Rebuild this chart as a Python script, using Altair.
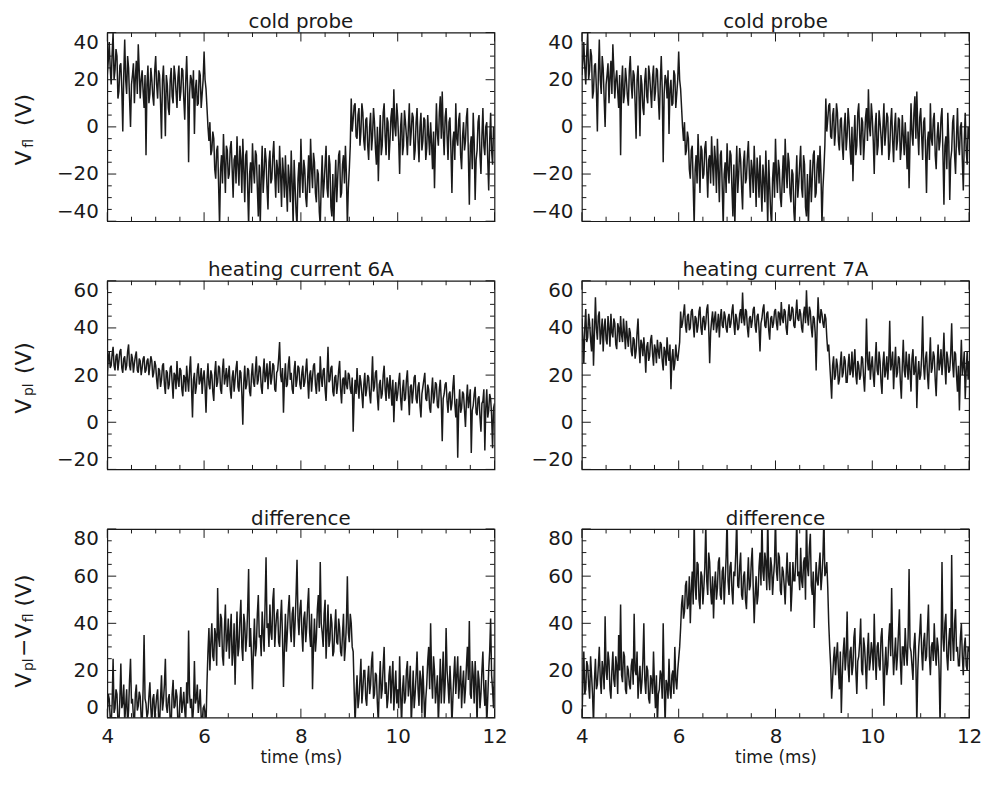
import altair as alt
import pandas as pd

# ---------------- data ----------------
T0, DT, N = 4.0, 0.02, 401
time_ms = [round(T0 + DT * i, 2) for i in range(N)]

v_fl = [
    22, 28, 36, 25, 18, 31, 40, 20, 24, 33, 30, 12, 15, 26, 27, 16, -2, 22, 37, 20, 14, 30, 25, 12, 0, 18, 22, 27, 10, 21, 28, 14, 35, 24, 12, 20, 24, 15, 8, 22, -12, 18, 26, 10, 14, 25, 20, 13, 9, 24,
    30, 18, 12, 24, 22, 10, -5, 20, 26, 14, -4, 22, 18, 8, 5, 20, 25, 13, 10, 26, 22, 15, 8, 21, 26, 11, 15, 25, 24, 12, 3, 19, 30, 16, -15, 14, 22, 20, 12, 24, -3, 16, 20, 9, 10, 24, 22, 8, 14, 20,
    32, 20, 16, 8, 0, -6, 2, -12, -10, -2, -5, -18, -22, -10, -8, -25, -42, -18, -12, -24, -3, -15, -28, -8, -10, -22, -20, -9, -6, -18, -30, -14, -12, -24, -4, -16, -25, -8, -14, -28, -5, -18, -32, -12, -10, -26, -42, -20, -15, -28,
    -7, -18, -24, -10, -12, -26, -38, -16, -42, -22, -8, -28, -20, -9, -14, -26, -35, -15, -10, -24, -22, -12, -6, -20, -30, -14, -18, -28, -8, -20, -34, -13, -20, -30, -12, -25, -36, -16, -22, -32, -10, -24, -42, -14, -25, -36, -42, -22, -15, -30,
    -5, -20, -28, -14, -18, -30, -34, -22, -12, -28, -5, -18, -26, -11, -15, -28, -32, -18, -20, -36, -42, -24, -12, -30, -24, -16, -8, -26, -30, -12, -16, -34, -38, -20, -42, -26, -14, -32, -22, -12, -10, -30, -28, -16, -12, -24, -8, -20, -42, -26,
    -18, -8, 12, -2, 3, 9, 10, -4, -5, 5, 8, -8, -2, 10, 6, -6, -10, 3, 4, -8, -14, 0, 6, -10, -4, 8, 2, -9, -16, 0, -23, -6, 5, -12, -8, 6, 10, -4, -12, 4, 2, -14, -6, 4, 8, -6, 16, 0, -4, 10,
    4, -6, -20, 0, 6, -12, -8, 7, 2, -4, -12, 0, 10, -8, -2, 6, 4, -14, -10, 2, 8, -6, -15, 0, 6, -10, -6, 4, 3, -14, -9, 5, -4, -12, 2, -7, -18, -2, -26, -6, 10, -3, -8, 6, 13, -5, 15, -2, -12, 4,
    8, -4, -14, 2, 4, -10, -28, -6, -2, -14, 10, -5, -8, 3, 6, -12, -18, -4, 2, -10, -6, 4, 8, -12, -33, -8, -4, -18, 6, -6, -31, -14, -10, 2, 5, -12, -20, -4, 8, -8, -12, 0, 2, -14, -27, -6, 6, -10, -16, 0,
    -5,
]

v_pl_6a = [
    20, 27, 30, 23, 24, 29, 32, 24, 22, 28, 29, 22, 26, 30, 31, 23, 21, 27, 28, 22, 24, 30, 33, 24, 22, 29, 27, 21, 25, 28, 30, 22, 21, 27, 26, 20, 23, 27, 28, 21, 22, 26, 27, 20, 24, 28, 26, 19, 21, 26,
    24, 18, 14, 23, 22, 15, 18, 24, 25, 16, 12, 22, 21, 14, 16, 23, 24, 17, 10, 21, 20, 14, 26, 18, 15, 23, 22, 14, 11, 20, 19, 13, 24, 18, 13, 22, 28, 15, 2, 18, 21, 12, 15, 22, 25, 16, 18, 23, 12, 19,
    22, 15, 4, 18, 25, 16, 14, 22, 20, 13, 9, 21, 26, 15, 17, 24, 23, 14, 12, 22, 27, 16, 19, 23, 15, 20, 24, 14, 10, 19, 22, 13, 18, 23, 26, 15, 13, 22, 21, 12, -1, 17, 24, 14, 16, 23, 22, 13, 11, 20,
    25, 17, 15, 22, 28, 16, 18, 24, 23, 15, 12, 21, 27, 17, 20, 25, 14, 21, 26, 16, 19, 25, 24, 14, 13, 21, 22, 27, 34, 20, 17, 23, 4, 18, 25, 15, 16, 24, 28, 18, 21, 14, 12, 22, 26, 15, 18, 24, 23, 16,
    14, 21, 24, 15, 17, 22, 27, 18, 10, 20, 22, 13, 19, 24, 25, 16, 12, 20, 21, 13, 28, 19, 15, 22, 23, 14, 9, 20, 32, 17, 18, 23, 24, 13, 11, 19, 20, 12, 16, 22, 26, 14, 8, 18, 19, 12, 22, 16, 14, 21,
    20, 14, 12, 19, -4, 11, 18, 12, 23, 15, 10, 20, 17, 12, 6, 16, 21, 11, 14, 20, 19, 12, 8, 17, 28, 13, 15, 21, 22, 11, 5, 16, 18, 10, 12, 20, 24, 14, 9, 19, 16, 10, 20, 14, 7, 18, 0, 12, 17, 9,
    12, 17, 21, 10, 5, 14, 18, 9, 10, 18, 22, 12, 3, 15, 16, 8, 13, 19, 20, 10, 8, 15, 17, 7, 2, 12, 15, 18, 21, 10, 9, 16, 14, 6, 4, 13, 19, 8, 11, 17, 16, 7, 6, 14, 18, 9, -8, 10, 12, 16,
    17, 9, 4, 12, 13, 5, 8, 15, 20, 8, 2, 10, -15, 6, 14, 4, 6, 13, 12, 5, -2, 9, 16, 6, 10, 14, -13, 5, 7, 12, 15, 4, 3, 10, 11, 2, -4, 8, 9, 14, -12, 6, 14, 2, 5, 12, 10, 3, -11, 6,
    8,
]

v_pl_7a = [
    44, 36, 25, 40, 48, 34, 36, 46, 42, 35, 30, 44, 24, 38, 53, 40, 35, 45, 47, 33, 38, 44, 30, 40, 44, 35, 33, 45, 40, 32, 46, 38, 36, 44, 42, 33, 31, 42, 40, 34, 45, 37, 34, 44, 38, 31, 43, 36, 32, 40,
    38, 30, 28, 36, 35, 27, 30, 38, 44, 32, 25, 35, 33, 28, 36, 30, 21, 32, 34, 26, 28, 35, 37, 29, 24, 33, 31, 25, 35, 30, 27, 34, 33, 26, 22, 32, 30, 24, 36, 29, 26, 33, 14, 27, 31, 22, 25, 33, 28, 26,
    30, 34, 47, 40, 42, 46, 50, 41, 38, 45, 46, 39, 40, 47, 48, 42, 36, 45, 44, 38, 41, 47, 49, 40, 37, 44, 45, 39, 42, 48, 50, 40, 25, 38, 43, 47, 39, 44, 47, 38, 41, 46, 36, 44, 48, 41, 40, 47, 45, 40,
    38, 44, 46, 40, 42, 47, 50, 42, 37, 46, 44, 39, 40, 46, 48, 42, 55, 44, 41, 48, 47, 40, 36, 44, 45, 40, 43, 48, 49, 41, 38, 45, 46, 40, 30, 42, 44, 48, 50, 41, 40, 46, 47, 39, 35, 44, 45, 40, 42, 47,
    48, 42, 39, 47, 46, 41, 51, 44, 42, 48, 47, 40, 37, 45, 50, 43, 44, 49, 48, 41, 40, 46, 52, 44, 43, 48, 46, 40, 38, 46, 49, 42, 56, 45, 41, 49, 47, 40, 36, 45, 44, 38, 22, 40, 53, 44, 42, 48, 46, 42,
    40, 46, 44, 36, 30, 33, 25, 18, 10, 24, 28, 18, 20, 27, 24, 16, 18, 25, 30, 19, 21, 28, 26, 17, 17, 24, 29, 20, 22, 30, 19, 25, 31, 20, 16, 26, 24, 18, 20, 28, 27, 19, 13, 24, 44, 26, 22, 30, 18, 24,
    28, 20, 15, 26, 34, 22, 20, 30, 26, 17, 12, 25, 30, 19, 22, 28, 18, 26, 43, 22, 25, 30, 14, 24, 32, 19, 21, 28, 27, 17, 10, 24, 35, 22, 19, 30, 24, 18, 29, 22, 13, 27, 31, 20, 22, 28, 6, 20, 26, 18,
    20, 28, 45, 24, 18, 27, 30, 20, 14, 26, 36, 21, 23, 30, 28, 18, 11, 24, 33, 22, 25, 31, 20, 27, 38, 24, 16, 30, 27, 21, 22, 29, 42, 25, 19, 30, 29, 20, 13, 24, 5, 22, 35, 20, 24, 30, 10, 22, 30, 18,
    26,
]

diff_6a = [
    2, 10, 8, 0, -3, 6, 25, 2, 4, 12, 10, -2, -3, 8, 23, 4, 6, 14, -2, 5, 12, -3, 3, 16, 25, 6, 8, 0, -3, 10, 14, 3, 5, 11, 9, 0, -3, 12, 35, 8, 6, 0, 2, 9, 15, 4, -3, 8, 10, 0,
    4, 9, 12, 0, -3, 8, 18, 3, 7, 14, 25, 5, 2, 8, 10, -2, -3, 10, 16, 4, 5, 12, 9, -3, -3, 7, 13, 2, 6, 11, 3, -2, 15, 6, 37, 10, 4, 8, -3, 4, 24, 6, 8, 14, 2, 6, 12, 0, -3, 4,
    5, 2, -3, 15, 28, 38, 20, 32, 40, 26, 24, 38, 35, 22, 55, 34, 30, 44, 42, 26, 22, 38, 48, 28, 33, 42, 25, 36, 44, 22, 28, 40, 14, 32, 45, 26, 30, 42, 50, 30, 24, 44, 40, 28, 34, 46, 63, 30, 38, 26,
    12, 30, 42, 26, 30, 44, 52, 34, 35, 26, 45, 36, 28, 48, 68, 38, 40, 30, 48, 36, 33, 50, 55, 30, 38, 44, 46, 32, 30, 42, 50, 34, 13, 30, 44, 28, 36, 46, 52, 38, 32, 44, 47, 30, 40, 52, 67, 42, 35, 46,
    50, 36, 28, 42, 45, 32, 38, 48, 55, 36, 30, 44, 12, 30, 42, 28, 34, 46, 52, 38, 66, 40, 36, 30, 44, 50, 25, 36, 48, 30, 33, 44, 40, 26, 28, 38, 46, 32, 31, 42, 38, 28, 26, 36, 44, 24, 30, 40, 60, 36,
    32, 44, 40, 30, 28, 12, -3, 10, 18, 4, 8, 16, 25, 6, 12, 20, 20, 8, 5, 16, 22, 10, 14, 24, 28, 8, 10, 19, 18, 6, -2, 14, 24, 8, 12, 22, 30, 10, 15, 4, 8, 18, 22, 6, 16, 24, 3, 12, 20, 6,
    12, 4, 26, 10, -3, 12, 18, 6, 8, 20, 24, 9, 14, 22, -3, 8, 20, 4, 10, 18, 28, 12, 5, 20, 16, 2, 22, 10, -3, 8, 14, 24, 30, 12, 40, 18, 8, 26, 20, 6, 12, 18, -3, 10, 25, 6, 16, 28, 6, 14,
    38, 20, 14, 6, 22, 12, -3, 8, 18, 26, 10, 18, 26, 8, 15, 22, 4, 14, 20, 6, 12, 22, 30, 16, 41, 10, 8, 24, 18, 6, 24, 14, -3, 20, 16, 4, 10, 20, 28, 12, 5, 16, -3, 8, 20, 28, 42, 18, 12, 4,
    25,
]

diff_7a = [
    -3, 15, 28, 10, 12, 24, 22, 14, 8, 26, 18, 10, -3, 16, 25, 12, 14, 22, 30, 16, 10, 24, 20, 12, 43, 20, 16, 28, 24, 12, 8, 20, 28, 16, 13, 26, 22, 10, 35, 20, 48, 18, 15, 28, 26, 12, 10, 22, 20, 14,
    12, 22, 25, 14, 44, 20, 18, 28, 8, 16, 22, 10, 15, 24, 40, 16, 10, 22, 20, 8, 6, 18, 16, 10, 28, 14, 4, 18, -3, 10, 12, 20, 18, 8, 40, 14, -3, 16, 14, 8, 25, 12, 8, 18, 20, 10, 30, 16, 12, 20,
    25, 30, 38, 48, 52, 42, 45, 56, 58, 46, 48, 60, 40, 54, 62, 48, 85, 56, 50, 66, 65, 50, 46, 62, 60, 48, 55, 64, 82, 58, 52, 70, 66, 54, 48, 60, 42, 56, 62, 50, 55, 66, 68, 52, 50, 62, 64, 48, 58, 68,
    85, 58, 52, 64, 66, 54, 48, 62, 60, 70, 85, 56, 55, 64, 70, 52, 50, 60, 62, 50, 46, 58, 68, 54, 56, 66, 72, 55, 40, 52, 60, 48, 52, 64, 70, 56, 85, 62, 58, 70, 66, 54, 85, 60, 54, 68, 64, 52, 60, 66,
    85, 62, 58, 70, 68, 54, 52, 64, 62, 56, 48, 60, 70, 58, 56, 66, 45, 54, 66, 58, 58, 68, 85, 60, 62, 54, 72, 58, 55, 66, 68, 50, 85, 64, 60, 72, 78, 56, 52, 62, 38, 54, 66, 58, 56, 64, 70, 54, 60, 68,
    85, 60, 62, 66, 55, 40, 30, 22, 8, 16, 25, 30, 18, 26, 32, 20, 12, 28, 2, 18, 28, 34, 20, 26, 45, 22, 15, 28, 30, 18, 22, 34, 38, 20, 10, 24, 26, 32, 42, 20, 18, 34, 30, 22, 12, 28, 36, 20, 24, 32,
    28, 20, 44, 26, 16, 30, 32, 22, 20, 34, 38, 24, 5, 22, 30, 18, 22, 34, 40, 26, 55, 30, 18, 26, 34, 20, 26, 36, 46, 24, 14, 30, 30, 22, 38, 28, 22, 34, 63, 30, 28, 22, 16, 30, 36, 24, -3, 20, 30, 36,
    44, 28, 20, 32, 36, 24, 26, 38, 48, 26, 18, 30, 32, 24, 40, 28, 22, 34, 30, 20, -3, 24, 66, 34, 28, 40, 44, 26, 20, 32, 38, 24, 69, 34, 24, 40, 46, 28, 30, 22, 22, 34, 40, 26, 18, 30, 34, 22, 20, 30,
    28,
]

x_major = [4, 6, 8, 10, 12]
x_minor = [4.5, 5, 5.5, 6.5, 7, 7.5, 8.5, 9, 9.5, 10.5, 11, 11.5]

y1_domain = [-40, 40]
y1_major = [-40, -20, 0, 20, 40]
y1_minor = [-35, -30, -25, -15, -10, -5, 5, 10, 15, 25, 30, 35]

y2_domain = [-20, 60]
y2_major = [-20, 0, 20, 40, 60]
y2_minor = [-15, -10, -5, 5, 10, 15, 25, 30, 35, 45, 50, 55]

y3_domain = [0, 80]
y3_major = [0, 20, 40, 60, 80]
y3_minor = [5, 10, 15, 25, 30, 35, 45, 50, 55, 65, 70, 75]

titles = ["cold probe", "cold probe", "heating current 6A", "heating current 7A",
          "difference", "difference"]
x_title = "time (ms)"

# y-axis titles built from pieces (text, font size, x offset, y start) to get subscripts
ylab_fl = [("V", 22, -77, 134), ("fl", 14, -75, 116), ("(V)", 22, -77, 94)]
ylab_pl = [("V", 22, -77, 134), ("pl", 14, -75, 116), ("(V)", 22, -77, 94)]
ylab_diff = [("V", 22, -77, 160), ("pl", 14, -75, 143), ("\u2212", 22, -77, 129),
             ("V", 22, -77, 110), ("fl", 14, -75, 94), ("(V)", 22, -77, 78)]

# ---------------- styling ----------------
FONT = "DejaVu Sans"
INK = "#1a1a1a"
W, H = 390, 190
MAJ, MIN = 9, 4.5

for s in (v_fl, v_pl_6a, v_pl_7a, diff_6a, diff_7a):
    if len(s) != N:
        raise ValueError(f"series length {len(s)} != {N}")


def panel(values, ydom, ymaj, ymin, title, show_x, ylabel):
    df = pd.DataFrame({"t": time_ms, "v": values})
    xs = alt.Scale(domain=[4, 12], nice=False, zero=False)
    ys = alt.Scale(domain=ydom, nice=False, zero=False)
    if show_x:
        xaxis = alt.Axis(values=x_major, title=x_title, ticks=False, tickSize=0, domain=False,
                         grid=False, labelFlush=False, labelFont=FONT, labelFontSize=20,
                         labelPadding=9, labelColor=INK, titleFont=FONT, titleFontSize=17,
                         titleFontWeight="normal", titlePadding=3, titleColor=INK, format="d")
    else:
        xaxis = None
    yaxis = alt.Axis(values=ymaj, title=None, ticks=False, tickSize=0, domain=False, grid=False,
                     labelFlush=True, labelFont=FONT, labelFontSize=20, labelPadding=9,
                     labelColor=INK, format="d")
    layers = [
        alt.Chart(df).mark_line(clip=True, color=INK, strokeWidth=1.5).encode(
            x=alt.X("t:Q", scale=xs, axis=xaxis),
            y=alt.Y("v:Q", scale=ys, axis=yaxis),
        )
    ]
    for vals, ln in ((x_major, MAJ), (x_minor, MIN)):
        d = pd.DataFrame({"t": vals})
        for y0, y1 in ((0, ln), (H, H - ln)):
            layers.append(
                alt.Chart(d).mark_rule(color=INK, strokeWidth=1).encode(
                    x=alt.X("t:Q", scale=xs), y=alt.value(y0), y2=alt.value(y1)))
    for vals, ln in ((ymaj, MAJ), (ymin, MIN)):
        d = pd.DataFrame({"v": vals})
        for x0, x1 in ((0, ln), (W, W - ln)):
            layers.append(
                alt.Chart(d).mark_rule(color=INK, strokeWidth=1).encode(
                    y=alt.Y("v:Q", scale=ys), x=alt.value(x0), x2=alt.value(x1)))
    if ylabel:
        one = pd.DataFrame({"k": [0]})
        for text, size, dx, dy in ylabel:
            layers.append(
                alt.Chart(one).mark_text(text=text, angle=270, align="left",
                                         baseline="alphabetic", font=FONT, fontSize=size,
                                         color=INK).encode(x=alt.value(dx), y=alt.value(dy)))
    return alt.layer(*layers).properties(
        width=W, height=H,
        title=alt.TitleParams(text=title, font=FONT, fontSize=20, fontWeight="normal",
                              color=INK, offset=0, anchor="middle"))


panels = [
    panel(v_fl, y1_domain, y1_major, y1_minor, titles[0], False, ylab_fl),
    panel(v_fl, y1_domain, y1_major, y1_minor, titles[1], False, None),
    panel(v_pl_6a, y2_domain, y2_major, y2_minor, titles[2], False, ylab_pl),
    panel(v_pl_7a, y2_domain, y2_major, y2_minor, titles[3], False, None),
    panel(diff_6a, y3_domain, y3_major, y3_minor, titles[4], True, ylab_diff),
    panel(diff_7a, y3_domain, y3_major, y3_minor, titles[5], True, None),
]

chart = alt.concat(
    *panels, columns=2, spacing={"row": 60, "column": 88}, bounds="flush"
).properties(
    padding={"left": 4, "top": 0, "right": 0, "bottom": 0},
    background="white",
).configure_view(stroke=INK, strokeWidth=1.2)

chart.save("out.html", embed_options={"renderer": "svg", "actions": False})
